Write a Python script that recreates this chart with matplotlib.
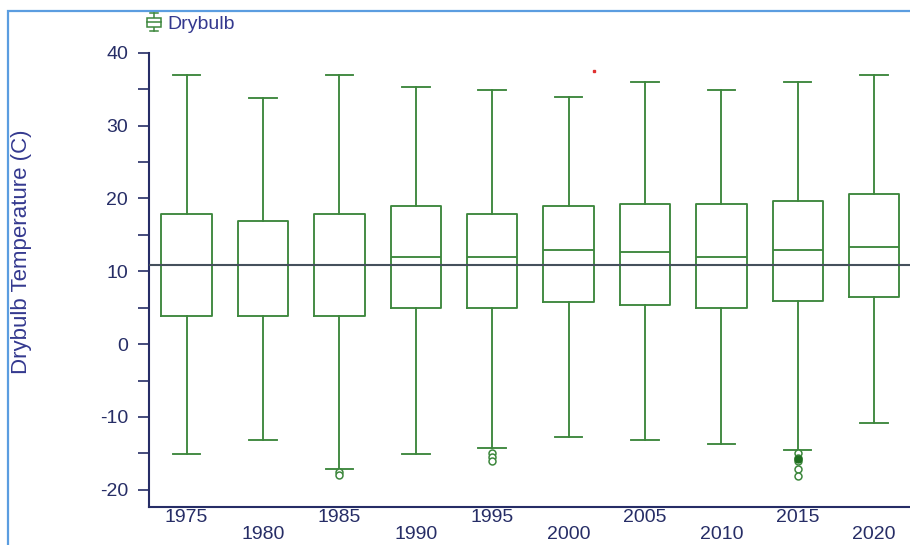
import matplotlib
matplotlib.use("Agg")
import matplotlib.pyplot as plt
from matplotlib.lines import Line2D
from matplotlib.patches import Rectangle
from matplotlib.legend_handler import HandlerBase
from matplotlib.ticker import MultipleLocator

# ---------------- data ----------------
years = [1975, 1980, 1985, 1990, 1995, 2000, 2005, 2010, 2015, 2020]
whisker_low = [-15.1, -13.2, -17.2, -15.1, -14.2, -12.7, -13.2, -13.7, -14.6, -10.8]
q1 = [3.9, 3.9, 3.9, 5.0, 5.0, 5.8, 5.4, 5.0, 5.9, 6.4]
medians = [10.8, 10.8, 10.8, 11.9, 11.9, 12.9, 12.6, 11.9, 12.9, 13.3]
q3 = [17.9, 16.9, 17.9, 18.9, 17.9, 18.9, 19.2, 19.2, 19.7, 20.6]
whisker_high = [36.9, 33.8, 36.9, 35.3, 34.9, 33.9, 36.0, 34.9, 36.0, 36.9]

outlier_years = [1985, 1985, 1995, 1995, 1995, 2015, 2015, 2015, 2015, 2015]
outlier_values = [-17.6, -18.0, -15.0, -15.5, -16.0, -15.0, -15.6, -16.0, -17.1, -18.1]
dense_outlier_years = [2015]
dense_outlier_values = [-15.8]

stray_point_x = [6.33]
stray_point_y = [37.5]

reference_value = 10.8
series_name = "Drybulb"
y_label = "Drybulb Temperature (C)"

# ---------------- style ----------------
GREEN = "#3d873d"
NAVY = "#262d66"
LABEL_BLUE = "#34398f"
REF_GRAY = "#45505c"
plt.rcParams["font.family"] = ["Liberation Sans", "DejaVu Sans"]
plt.rcParams["axes.unicode_minus"] = False

fig = plt.figure(figsize=(9.10, 5.45), dpi=100)
W, H = 910, 545
ax = fig.add_axes([149 / W, 37.7 / H, 1 - 149 / W, (507.3 - 52.7) / H])

positions = list(range(1, len(years) + 1))
stats = []
for i, yr in enumerate(years):
    fl = [v for y, v in zip(outlier_years, outlier_values) if y == yr]
    stats.append(dict(med=medians[i], q1=q1[i], q3=q3[i],
                      whislo=whisker_low[i], whishi=whisker_high[i], fliers=fl))

lw = 1.35
ax.bxp(stats, positions=positions, widths=0.66, capwidths=0.36, showfliers=True,
       boxprops=dict(color=GREEN, lw=lw),
       whiskerprops=dict(color=GREEN, lw=lw),
       capprops=dict(color=GREEN, lw=lw),
       medianprops=dict(color=GREEN, lw=lw),
       flierprops=dict(marker="o", markersize=5, markerfacecolor="white",
                       markeredgecolor=GREEN, markeredgewidth=1.1, linestyle="none"))

dense_pos = [positions[years.index(y)] for y in dense_outlier_years]
ax.plot(dense_pos, dense_outlier_values, "o", ms=5, mfc="#1f6e1f",
        mec="#1f6e1f", zorder=4)
ax.plot(stray_point_x, stray_point_y, "s", ms=1.5, color="#e03030", zorder=4)

ax.axhline(reference_value, color=REF_GRAY, lw=1.5, zorder=5)

ax.set_xlim(0.507, 10.47)
ax.set_ylim(-22.4, 40)

for s in ["top", "right"]:
    ax.spines[s].set_visible(False)
for s in ["left", "bottom"]:
    ax.spines[s].set_color(NAVY)
    ax.spines[s].set_linewidth(1.5)

ax.yaxis.set_major_locator(MultipleLocator(10))
ax.yaxis.set_minor_locator(MultipleLocator(5))
ax.tick_params(axis="y", which="both", direction="out", length=8, width=1.2,
               color=NAVY, labelcolor=NAVY, labelsize=14, pad=7)
ax.set_xticks(positions)
ax.set_xticklabels([str(y) if i % 2 == 0 else "\n" + str(y) for i, y in enumerate(years)])
ax.tick_params(axis="x", length=0, pad=1.5, labelcolor=NAVY, labelsize=14)
for t in ax.get_xticklabels():
    t.set_linespacing(1.0)

fig.text(22 / W, 1 - 252 / H, y_label, rotation=90, ha="center", va="center",
         color=LABEL_BLUE, fontsize=16)


class BoxIconHandler(HandlerBase):
    def create_artists(self, legend, orig_handle, xdescent, ydescent,
                       width, height, fontsize, trans):
        cx = -xdescent + width / 2
        y0 = -ydescent - 0.2 * height
        y1 = -ydescent + 1.15 * height
        bw = width * 0.95
        bh = (y1 - y0) * 0.5
        by = y0 + (y1 - y0) * 0.25
        arts = [
            Line2D([cx, cx], [y0, y1], color=GREEN, lw=1.1),
            Line2D([cx - bw * 0.3, cx + bw * 0.3], [y0, y0], color=GREEN, lw=1.1),
            Line2D([cx - bw * 0.3, cx + bw * 0.3], [y1, y1], color=GREEN, lw=1.1),
            Rectangle((cx - bw / 2, by), bw, bh, facecolor="white", edgecolor=GREEN, lw=1.1),
            Line2D([cx - bw / 2, cx + bw / 2], [by + bh / 2, by + bh / 2], color=GREEN, lw=1.1),
        ]
        for a in arts:
            a.set_transform(trans)
        return arts


handle = Rectangle((0, 0), 1, 1)
leg = fig.legend([handle], [series_name], handler_map={Rectangle: BoxIconHandler()},
                 loc="upper left", bbox_to_anchor=(147 / W, 1 - 15 / H),
                 frameon=False, fontsize=14, handlelength=0.75, handletextpad=0.3,
                 borderpad=0, borderaxespad=0)
for t in leg.get_texts():
    t.set_color(LABEL_BLUE)

# outer blue frame
fig.patches.append(Rectangle((8.3 / W, -0.05), 1.1, 1 - 10.7 / H + 0.05,
                             transform=fig.transFigure, fill=False,
                             edgecolor="#5b9de0", lw=1.6, zorder=0))

fig.savefig("out.png", dpi=100)
